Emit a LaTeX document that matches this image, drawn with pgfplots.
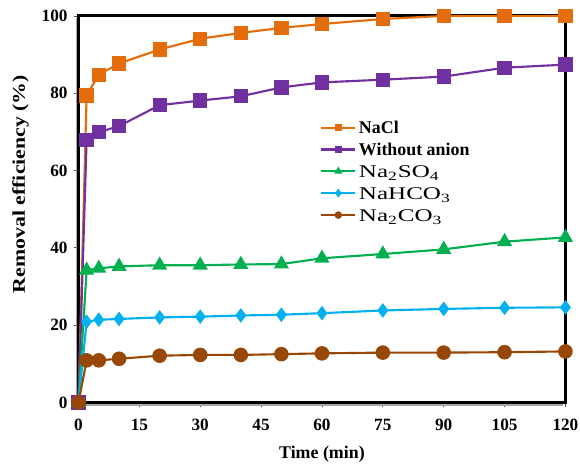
\documentclass[border=0pt]{standalone}
\usepackage{graphicx}
\usepackage{pgfplots}
\pgfplotsset{compat=1.18}
\usepackage{fontspec}
\setmainfont{Liberation Serif}
\definecolor{cNaCl}{RGB}{228,108,10}
\definecolor{cWo}{RGB}{112,48,160}
\definecolor{cSO}{RGB}{0,176,80}
\definecolor{cHCO}{RGB}{0,176,240}
\definecolor{cCO}{RGB}{151,71,6}
\newcommand{\legstrut}{\rule[-5.5pt]{0pt}{16.5pt}}
\newcommand{\legB}[1]{\legstrut\fontsize{13.5}{15}\selectfont\bfseries #1}
\newcommand{\legR}[1]{\legstrut\scalebox{1.4}[1]{\fontsize{13.5}{15}\selectfont #1}}
\begin{document}
\begin{tikzpicture}
\begin{axis}[
  scale only axis,
  width=367.5pt, height=291.75pt,
  xmin=0, xmax=120, ymin=0, ymax=100,
  xtick={0,15,...,120}, ytick={0,20,...,100},
  tick align=outside, tick pos=left,
  major tick length=3.75pt,
  axis line style={draw=none},
  tick style={line width=0.6pt, gray!60!black},
  /pgf/number format/assume math mode=true,
  ticklabel style={font=\fontsize{13}{15}\selectfont\bfseries},
  xticklabel style={yshift=-5pt},
  yticklabel style={xshift=-1pt},
  xlabel={\fontsize{13.5}{15}\selectfont\bfseries Time (min)},
  ylabel={\scalebox{1.22}[1]{\fontsize{13.5}{15}\selectfont\bfseries Removal efficiency (\%)}},
  xlabel style={yshift=-5pt},
  ylabel style={at={(ticklabel cs:0.565)}, yshift=3pt},
  clip=false,
  every axis plot/.append style={line width=1.6pt},
  legend style={at={(0.496,0.74)}, anchor=north west, draw=none, fill=none, row sep=0pt, inner sep=0pt, cells={anchor=west}},
  legend image code/.code={\draw[mark repeat=2,mark phase=2,#1] plot coordinates {(0cm,0cm)(0.45cm,0cm)(0.9cm,0cm)};},
  legend image post style={mark size=2pt},
]
% frame
\draw[gray!70, line width=1.2pt] (rel axis cs:0,0) ++(-1.6pt,-1.8pt) -- ++(0,291.75pt);
\draw[gray!70, line width=1.2pt] (rel axis cs:0,0) ++(-1.6pt,-1.8pt) -- ++(367.5pt,0);
\draw[black, line width=2.2pt] (rel axis cs:0,0) rectangle (rel axis cs:1,1);
\coordinate (bl) at (rel axis cs:0,0);
\coordinate (tr) at (rel axis cs:1,1);
\addplot[color=cNaCl, mark=square*, mark size=4.6pt] coordinates {
(0,0)(2,79.4)(5,84.8)(10,87.7)(20,91.3)(30,94.1)(40,95.6)(50,96.9)(60,97.9)(75,99.2)(90,100)(105,100)(120,100)};
\addlegendentry{\legB{NaCl}}
\addplot[color=cWo, mark=square*, mark size=4.6pt] coordinates {
(0,0)(2,67.9)(5,69.9)(10,71.5)(20,76.9)(30,78.1)(40,79.2)(50,81.5)(60,82.8)(75,83.5)(90,84.3)(105,86.6)(120,87.4)};
\addlegendentry{\legB{Without anion}}
\addplot[color=cSO, mark=triangle*, mark size=5pt] coordinates {
(0,0)(2,34.2)(5,34.7)(10,35.2)(20,35.5)(30,35.5)(40,35.7)(50,35.8)(60,37.3)(75,38.4)(90,39.6)(105,41.6)(120,42.7)};
\addlegendentry{\legR{Na\textsubscript{2}SO\textsubscript{4}}}
\addplot[color=cHCO, mark=diamond*, mark size=4.2pt] coordinates {
(0,0)(2,20.9)(5,21.4)(10,21.6)(20,22.0)(30,22.2)(40,22.5)(50,22.7)(60,23.1)(75,23.8)(90,24.2)(105,24.5)(120,24.6)};
\addlegendentry{\legR{NaHCO\textsubscript{3}}}
\addplot[color=cCO, mark=*, mark size=4.7pt] coordinates {
(0,0)(2,10.9)(5,10.9)(10,11.3)(20,12.1)(30,12.3)(40,12.3)(50,12.5)(60,12.7)(75,12.9)(90,12.9)(105,13.0)(120,13.2)};
\addlegendentry{\legR{Na\textsubscript{2}CO\textsubscript{3}}}
\end{axis}
\path (bl) ++(-59.25pt,-47.25pt) coordinate (A);
\path (tr) ++(11pt,12pt) coordinate (B);
\pgfresetboundingbox
\path[use as bounding box] (A) rectangle (B);
\end{tikzpicture}
\end{document}
